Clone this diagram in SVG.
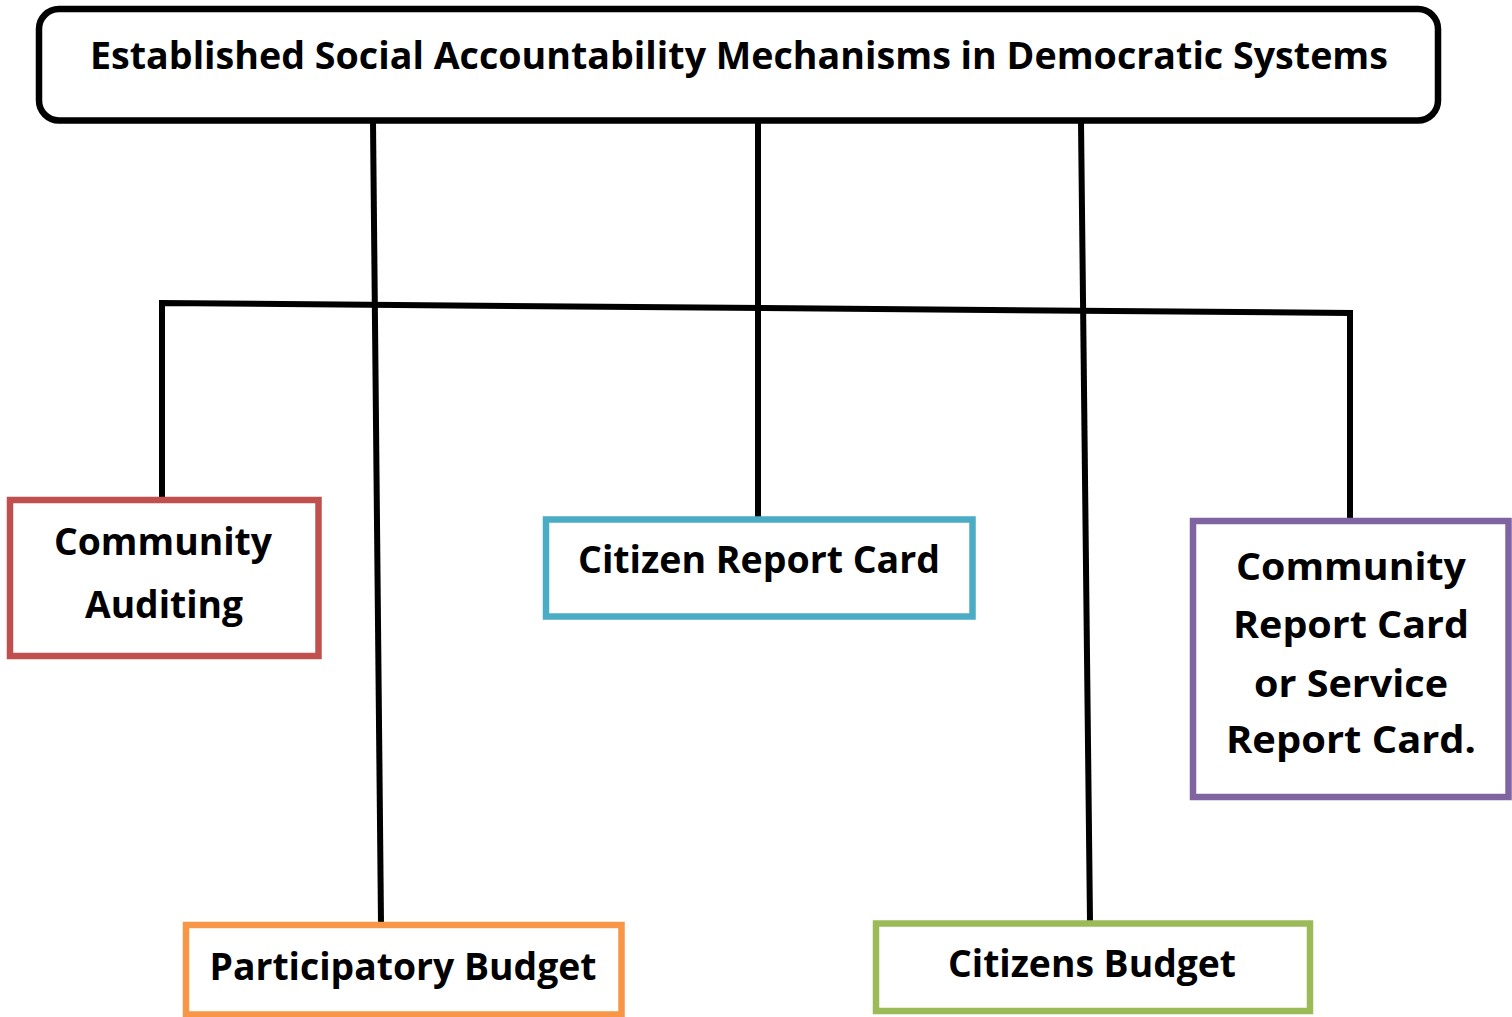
<svg xmlns="http://www.w3.org/2000/svg" width="1512" height="1017" viewBox="0 0 1512 1017">
<style>
text{font-family:"Open Sans","Noto Sans","Liberation Sans",sans-serif;font-weight:700;fill:#000;text-anchor:middle;font-size:37px}
.box{fill:#fff;stroke-width:6.5}
.conn{stroke:#000;stroke-width:6;fill:none}
</style>
<rect x="0" y="0" width="1512" height="1017" fill="#fff"/>
<g id="connectors">
<line class="conn" x1="373" y1="122" x2="381" y2="923"/>
<line class="conn" x1="758" y1="122" x2="758" y2="520"/>
<line class="conn" x1="1081" y1="122" x2="1090" y2="922"/>
<polyline class="conn" points="162,500 162,303 1350,313 1350,521"/>
</g>
<g id="title">
<rect x="39" y="9" width="1399" height="111.5" rx="20" fill="#fff" stroke="#000" stroke-width="6.5"/>
<text x="739" y="69" textLength="1298" lengthAdjust="spacingAndGlyphs">Established Social Accountability Mechanisms in Democratic Systems</text>
</g>
<g id="community-auditing">
<rect class="box" x="10" y="500" width="308.5" height="156" stroke="#C0504D"/>
<text x="163" y="555" textLength="218" lengthAdjust="spacingAndGlyphs">Community</text>
<text x="164" y="618" textLength="158" lengthAdjust="spacingAndGlyphs">Auditing</text>
</g>
<g id="citizen-report-card">
<rect class="box" x="546" y="519.5" width="426.5" height="97" stroke="#4BACC6"/>
<text x="759" y="573" textLength="362" lengthAdjust="spacingAndGlyphs">Citizen Report Card</text>
</g>
<g id="community-report-card">
<rect class="box" x="1193" y="521" width="315.5" height="276" stroke="#8064A2"/>
<text x="1351" y="580" textLength="230" lengthAdjust="spacingAndGlyphs">Community</text>
<text x="1351" y="638" textLength="236" lengthAdjust="spacingAndGlyphs">Report Card</text>
<text x="1351" y="697" textLength="194" lengthAdjust="spacingAndGlyphs">or Service</text>
<text x="1351" y="753" textLength="250" lengthAdjust="spacingAndGlyphs">Report Card.</text>
</g>
<g id="participatory-budget">
<rect class="box" x="186" y="925" width="435.5" height="89.5" stroke="#F79646"/>
<text x="403" y="980" textLength="387" lengthAdjust="spacingAndGlyphs">Participatory Budget</text>
</g>
<g id="citizens-budget">
<rect class="box" x="876" y="923.5" width="434" height="87.5" stroke="#9BBB59"/>
<text x="1092" y="977" textLength="288" lengthAdjust="spacingAndGlyphs">Citizens Budget</text>
</g>
</svg>
